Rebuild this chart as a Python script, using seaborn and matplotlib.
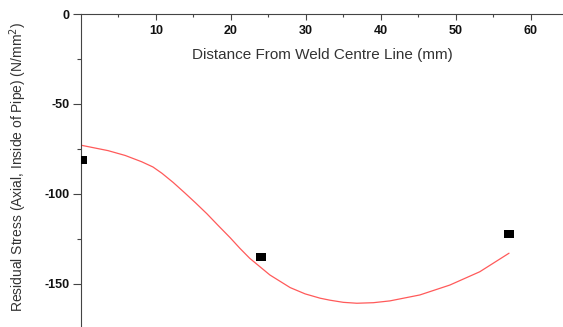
import numpy as np
import pandas as pd
import matplotlib
matplotlib.use("Agg")
import matplotlib.pyplot as plt
import seaborn as sns

# measured residual stress points
distance = [0.15, 24.0, 57.1]
stress = [-81.0, -135.0, -122.2]

# fitted curve
fit_x = [0.0, 3.6, 5.9, 8.1, 9.6, 10.8, 12.3, 13.9, 15.3, 16.8, 18.3, 19.9,
         21.2, 22.5, 25.2, 27.9, 29.9, 31.9, 33.2, 35.0, 36.8, 39.0, 41.2,
         45.2, 49.2, 53.2, 57.1]
fit_y = [-72.9, -75.9, -78.6, -82.1, -85.0, -88.5, -93.6, -99.6, -105.0,
         -111.0, -117.5, -124.3, -130.2, -135.7, -145.0, -152.0, -155.5,
         -157.9, -159.0, -160.2, -160.7, -160.4, -159.4, -156.1, -150.6,
         -143.2, -132.9]

x_ticks = [10, 20, 30, 40, 50, 60]
x_minor = [5, 15, 25, 35, 45, 55]
y_ticks = [0, -50, -100, -150]
y_minor = [-25, -75, -125]

sns.set_style("ticks")
plt.rcParams["font.family"] = ["Liberation Sans", "DejaVu Sans"]
plt.rcParams["axes.unicode_minus"] = False

fig = plt.figure(figsize=(5.63, 3.27), dpi=100)
ax = fig.add_axes([81 / 563, 0.0, (563 - 81) / 563, (327 - 14) / 327])

fit_df = pd.DataFrame({"x": fit_x, "y": fit_y})
sns.lineplot(data=fit_df, x="x", y="y", ax=ax, color="#ff5a5a", linewidth=0.9,
             sort=False)

pts = pd.DataFrame({"x": distance, "y": stress})
rect = [(-1.3, -1), (1.3, -1), (1.3, 1), (-1.3, 1)]
sns.scatterplot(data=pts, x="x", y="y", ax=ax, marker=rect, s=45,
                color="black", edgecolor="black", linewidth=0, zorder=5)

ax.set_xlim(0, 64.3)
ax.set_ylim(-173.9, 0)

# x axis sits on the y=0 line at the top
ax.spines["bottom"].set_position(("data", 0))
ax.spines["top"].set_visible(False)
ax.spines["right"].set_visible(False)
for s in ["bottom", "left"]:
    ax.spines[s].set_color("#444444")
    ax.spines[s].set_linewidth(0.8)

ax.set_xticks(x_ticks)
ax.set_yticks(y_ticks)
ax.xaxis.set_minor_locator(plt.FixedLocator(x_minor))
ax.yaxis.set_minor_locator(plt.FixedLocator(y_minor))

ax.tick_params(axis="x", which="major", direction="out", length=4, width=0.8,
               color="#444444", pad=4)
ax.tick_params(axis="x", which="minor", direction="out", length=2.5, width=0.8,
               color="#444444")
ax.tick_params(axis="y", which="major", direction="out", length=5.5, width=0.8,
               color="#444444", pad=3)
ax.tick_params(axis="y", which="minor", direction="out", length=3, width=0.8,
               color="#444444")
for lbl in ax.get_xticklabels() + ax.get_yticklabels():
    lbl.set_fontweight("bold")
    lbl.set_fontsize(9)
    lbl.set_color("#111111")

ax.set_xlabel("Distance From Weld Centre Line (mm)", fontsize=11, color="#333333")
ax.xaxis.set_label_coords(0.5, (327 - 48) / 313)
ax.set_ylabel("Residual Stress (Axial, Inside of Pipe) (N/mm$^2$)", fontsize=10,
              color="#333333")
ax.yaxis.set_label_coords(-0.108, 0.51)

fig.savefig("out.png", dpi=100)
